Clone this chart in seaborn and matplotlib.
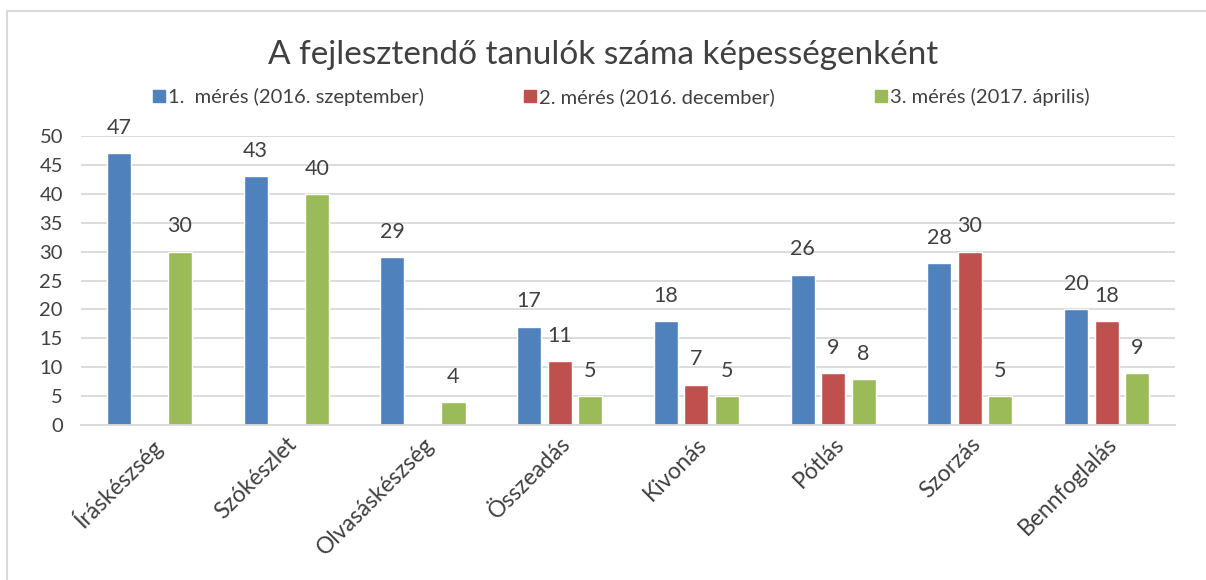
import pandas as pd
import seaborn as sns
import matplotlib.pyplot as plt
from matplotlib.lines import Line2D

# Data
skills = ["Íráskészség", "Szókészlet", "Olvasáskészség", "Összeadás",
          "Kivonás", "Pótlás", "Szorzás", "Bennfoglalás"]
series = ["1.  mérés (2016. szeptember)", "2. mérés (2016. december)",
          "3. mérés (2017. április)"]
meres1 = [47, 43, 29, 17, 18, 26, 28, 20]
meres2 = [None, None, None, 11, 7, 9, 30, 18]
meres3 = [30, 40, 4, 5, 5, 8, 5, 9]
colors = ["#4F81BD", "#C0504D", "#9BBB59"]

rows = []
for name, vals in zip(series, [meres1, meres2, meres3]):
    for skill, v in zip(skills, vals):
        rows.append({"skill": skill, "series": name, "value": v})
df = pd.DataFrame(rows)
df["value"] = df["value"].astype(float)

sns.set_style("white")
plt.rcParams["font.family"] = ["Lato", "DejaVu Sans"]

fig = plt.figure(figsize=(12.06, 5.80), dpi=100)
ax = fig.add_axes([0.0672, 0.2672, 0.9071, 0.4983])

sns.barplot(data=df, x="skill", y="value", hue="series", order=skills,
            hue_order=series, palette=colors, width=0.67, gap=0.21,
            errorbar=None, ax=ax, legend=False, saturation=1)

for cont in ax.containers:
    ax.bar_label(cont, fmt="%g", padding=11, fontsize=15.5, color="#404040")

ax.set_ylim(0, 50)
ax.set_yticks(range(0, 51, 5))
ax.set_xlim(-0.5, len(skills) - 0.5)
ax.grid(axis="y", color="#D9D9D9", linewidth=1.3)
ax.set_axisbelow(True)
for s in ["top", "left", "right"]:
    ax.spines[s].set_visible(False)
ax.spines["bottom"].set_color("#D9D9D9")
ax.spines["bottom"].set_linewidth(1.3)
ax.set_xlabel("")
ax.set_ylabel("")
ax.tick_params(axis="y", length=0, pad=13, labelsize=14.5, labelcolor="#404040")
ax.tick_params(axis="x", length=0, pad=6, labelsize=16.5, labelcolor="#404040")
plt.setp(ax.get_xticklabels(), rotation=45, ha="right", rotation_mode="anchor")

fig.text(0.5, 0.905, "A fejlesztendő tanulók száma képességenként",
         ha="center", va="center", fontsize=24, color="#404040")

handles = [Line2D([], [], marker="s", linestyle="none", markersize=9,
                  markerfacecolor=c, markeredgecolor=c) for c in colors]
fig.legend(handles, series, loc="center", bbox_to_anchor=(0.5147, 0.833),
           ncol=3, frameon=False, fontsize=14.5, columnspacing=4.9,
           handletextpad=0.1, handlelength=0.7, labelcolor="#404040")

# light frame of the chart area
fig.add_artist(Line2D([7 / 1206, 7 / 1206], [1 - 11 / 580, 0],
                      transform=fig.transFigure, color="#D9D9D9", lw=1.5))
fig.add_artist(Line2D([7 / 1206, 1], [1 - 11 / 580, 1 - 11 / 580],
                      transform=fig.transFigure, color="#D9D9D9", lw=1.5))

fig.savefig("out.png", dpi=100)
